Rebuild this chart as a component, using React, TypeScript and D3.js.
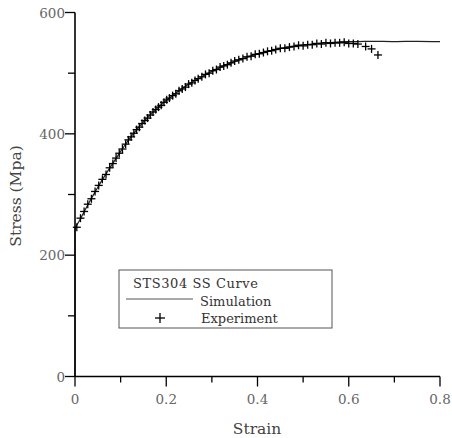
import React from "react";
import * as d3 from "d3";

const simStrain = [0, 0, 0.01, 0.02, 0.03, 0.04, 0.05, 0.06, 0.07, 0.08, 0.09, 0.10, 0.11, 0.12, 0.13, 0.14, 0.15, 0.16, 0.17, 0.18, 0.19, 0.20, 0.22, 0.24, 0.26, 0.28, 0.30, 0.32, 0.34, 0.36, 0.38, 0.40, 0.42, 0.44, 0.46, 0.48, 0.50, 0.52, 0.54, 0.56, 0.58, 0.60, 0.62, 0.65, 0.70, 0.75, 0.80];
const simStress = [0, 242, 257, 271.5, 285.5, 299, 312, 324.5, 336.5, 348, 359.5, 371, 382, 392.5, 402, 411, 419.5, 427.5, 435, 442, 448.5, 455, 466.5, 477, 486.5, 495, 503, 510, 516.5, 522, 527, 531.5, 535.5, 539, 542, 544.5, 546.5, 548, 549.5, 550.5, 551.5, 552, 552, 552.5, 552, 552.5, 552];

const expStrain = [0.004, 0.012, 0.02, 0.028, 0.036, 0.044, 0.052, 0.06, 0.068, 0.076, 0.083, 0.09, 0.097, 0.104, 0.111, 0.117, 0.123, 0.129, 0.135, 0.141, 0.147, 0.153, 0.159, 0.165, 0.171, 0.177, 0.183, 0.189, 0.195, 0.201, 0.207, 0.214, 0.221, 0.228, 0.235, 0.242, 0.249, 0.256, 0.263, 0.27, 0.278, 0.286, 0.294, 0.302, 0.31, 0.318, 0.326, 0.334, 0.342, 0.35, 0.359, 0.368, 0.377, 0.386, 0.395, 0.404, 0.413, 0.422, 0.431, 0.44, 0.45, 0.46, 0.47, 0.48, 0.49, 0.5, 0.51, 0.52, 0.53, 0.54, 0.55, 0.56, 0.57, 0.58, 0.59, 0.6, 0.61, 0.62, 0.637, 0.65, 0.664];
const expStress = [246, 261, 272, 284, 293, 305, 315, 325, 333, 344, 351, 360, 368, 375, 383, 390, 395, 401, 407, 411, 417, 422, 426, 431, 436, 440, 444, 447, 452, 456, 459, 463, 466, 471, 474, 477, 482, 484, 488, 491, 494, 498, 500, 504, 506, 510, 512, 514, 517, 520, 522, 524, 527, 528, 531, 532, 534, 536, 537, 539, 541, 541, 543, 544, 546, 545, 547, 547, 549, 548, 550, 549, 550, 550, 551, 549, 549, 548, 544, 540, 530];

const xTicks = [0, 0.2, 0.4, 0.6, 0.8];
const xMinor = [0.1, 0.3, 0.5, 0.7];
const yTicks = [0, 200, 400, 600];
const yMinor = [100, 300, 500];

export default function App() {
  const W = 452, H = 438;
  const x = d3.scaleLinear().domain([0, 0.8]).range([75, 440]);
  const y = d3.scaleLinear().domain([0, 600]).range([376.5, 12.5]);
  const line = d3.line<number>().x((_, i) => x(simStrain[i])).y((_, i) => y(simStress[i])).curve(d3.curveMonotoneX);
  const simPath = line(simStrain) || "";
  const font = "'DejaVu Serif', serif";
  const tickColor = "#666";
  return (
    <svg width={W} height={H} style={{ position: "absolute", left: 0, top: 0, background: "#fff" }}>
      <path d={simPath} fill="none" stroke="#222" strokeWidth={1.2} />
      {expStrain.map((s, i) => {
        const cx = x(s), cy = y(expStress[i]);
        return (
          <g key={i} stroke="#000" strokeWidth={1.3}>
            <line x1={cx - 4} x2={cx + 4} y1={cy} y2={cy} />
            <line x1={cx} x2={cx} y1={cy - 4} y2={cy + 4} />
          </g>
        );
      })}
      <line x1={x(0)} x2={x(0)} y1={y(600)} y2={y(0)} stroke="#000" strokeWidth={1.6} />
      <line x1={x(0)} x2={x(0.8)} y1={y(0)} y2={y(0)} stroke="#000" strokeWidth={1.6} />
      {yTicks.map((t) => (
        <g key={"yt" + t}>
          <line x1={x(0) - 10} x2={x(0)} y1={y(t)} y2={y(t)} stroke="#000" strokeWidth={1.3} />
          <text x={x(0) - 10} y={y(t) + 5} textAnchor="end" fontFamily={font} fontSize={13.5} fill={tickColor}>{t}</text>
        </g>
      ))}
      {yMinor.map((t) => (
        <line key={"ym" + t} x1={x(0) - 7} x2={x(0)} y1={y(t)} y2={y(t)} stroke="#000" strokeWidth={1.3} />
      ))}
      {xTicks.map((t) => (
        <g key={"xt" + t}>
          <line x1={x(t)} x2={x(t)} y1={y(0)} y2={y(0) + 10} stroke="#000" strokeWidth={1.3} />
          <text x={x(t)} y={y(0) + 27} textAnchor="middle" fontFamily={font} fontSize={13.5} fill={tickColor}>{t}</text>
        </g>
      ))}
      {xMinor.map((t) => (
        <line key={"xm" + t} x1={x(t)} x2={x(t)} y1={y(0)} y2={y(0) + 6} stroke="#000" strokeWidth={1.3} />
      ))}
      <text x={257} y={434} textAnchor="middle" fontFamily={font} fontSize={15.5} fill="#444">Strain</text>
      <text transform="translate(21,196) rotate(-90)" textAnchor="middle" fontFamily={font} fontSize={15.5} fill="#444">Stress (Mpa)</text>
      <rect x={119} y={270} width={213} height={58} fill="#fff" stroke="#555" strokeWidth={1} />
      <text x={133} y={288} fontFamily={font} fontSize={13} fill="#333" textLength={125}>STS304 SS Curve</text>
      <line x1={126} x2={193} y1={299} y2={299} stroke="#555" strokeWidth={1.2} />
      <text x={200} y={306} fontFamily={font} fontSize={13} fill="#333">Simulation</text>
      <g stroke="#000" strokeWidth={1.3}>
        <line x1={155} x2={165} y1={318} y2={318} />
        <line x1={160} x2={160} y1={313} y2={323} />
      </g>
      <text x={201} y={323} fontFamily={font} fontSize={13} fill="#333">Experiment</text>
    </svg>
  );
}
